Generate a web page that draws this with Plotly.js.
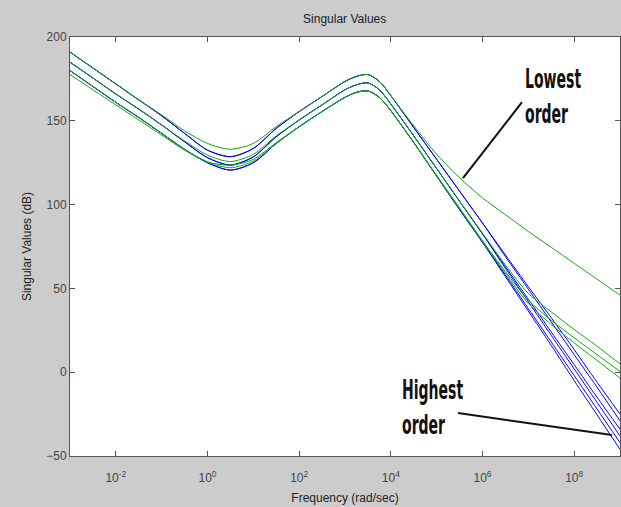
<!DOCTYPE html>
<html>
<head>
<meta charset="utf-8">
<script src="https://cdn.plot.ly/plotly-3.0.1.min.js"></script>
<style>
  html, body { margin: 0; padding: 0; background: #cccccc; }
  #chart { width: 621px; height: 507px; }
</style>
</head>
<body>
<div id="chart"></div>
<script>
// Frequency samples (rad/sec)
const freq = [0.001, 0.00316, 0.01, 0.0316, 0.1, 0.316, 1, 3.16, 10, 31.6, 100, 316, 1000, 1778, 3162, 5623,
              1e4, 31623, 1e5, 316228, 1e6, 3.16e6, 1e7, 3.16e7, 1e8, 3.16e8, 1e9];

// Blue singular-value curves (dB)
const blue1a = [191, 181.5, 172, 162.5, 153, 142.5, 132.5, 128.6, 133.5, 145.5, 155.5, 164.5, 173.5, 176.5, 177.6, 173.5,
                165, 146, 127, 108, 89, 70, 51, 32.5, 13.5, -6, -25];
const blue1b = [191, 181.5, 172, 162.5, 153, 142.5, 132.5, 128.6, 133.5, 145.5, 155.5, 164.5, 173.5, 176.5, 177.6, 173.5,
                165, 146, 127, 108, 89, 69, 49.5, 30, 10.5, -9, -29];
const blue2a = [185, 175.5, 166, 157, 147.5, 137.5, 128, 123.6, 128.5, 140.5, 150.5, 159.5, 168.5, 171.5, 172.6, 168.5,
                160, 141, 121.5, 102, 82.5, 63, 43.5, 24, 4.5, -15, -34];
const blue2b = [185, 175.5, 166, 157, 147.5, 137.5, 128, 123.6, 128.5, 140.5, 150.5, 159.5, 168.5, 171.5, 172.6, 168.5,
                160, 141, 121.5, 102, 82.5, 62, 42, 22, 2, -18, -38];
const blue3a = [180, 170.5, 161, 152, 142.5, 133, 125, 120.6, 125, 136.5, 146.5, 155.5, 164, 167, 167.8, 164,
                156, 137, 117, 97, 77.5, 58, 38, 18, -2, -22, -42];
const blue3b = [180, 170.5, 161, 152, 142.5, 133, 125, 120.6, 125, 136.5, 146.5, 155.5, 164, 167, 167.8, 164,
                156, 137, 117, 97, 77.5, 57, 36.5, 16, -5, -25.5, -46];

// Green singular-value curves (dB)
const green1 = [191, 181.5, 172, 162.5, 153.5, 144, 136.5, 133, 136.5, 146.5, 155.5, 164.5, 173.5, 176.5, 177.6, 173.5,
                165, 147, 130, 116, 104, 94, 84, 74.5, 65, 55.5, 46];
const green2 = [185, 175.5, 166, 157, 147.5, 138, 129.5, 125.7, 130, 141, 150.5, 159.5, 168.5, 171.5, 172.6, 168.5,
                160, 141, 121.5, 102, 83, 64, 47, 36, 25.5, 15.5, 5];
const green3 = [177.6, 168.5, 159.5, 150.5, 141.5, 132.5, 125.5, 123.5, 127, 137, 146.5, 155.5, 164, 167, 167.8, 164,
                156, 137, 117.5, 98, 78.5, 60, 43, 31, 20.5, 10.5, 0.5];
const green4 = [180, 170.5, 161, 152, 142.5, 133, 125.5, 122, 126, 136.5, 146.5, 155.5, 164, 167, 167.8, 164,
                156, 137, 117, 97.5, 78, 59, 41, 28.5, 17.5, 7, -3.5];

// Axis ticks
const xTickVals = [0.01, 1, 100, 1e4, 1e6, 1e8];
const xTickText = ['10<sup>-2</sup>', '10<sup>0</sup>', '10<sup>2</sup>', '10<sup>4</sup>', '10<sup>6</sup>', '10<sup>8</sup>'];
const yTickVals = [-50, 0, 50, 100, 150, 200];

const blueSeries = [blue1a, blue1b, blue2a, blue2b, blue3a, blue3b];
const greenSeries = [green1, green2, green3, green4];

const traces = [];
blueSeries.forEach(ys => traces.push({
  x: freq, y: ys, type: 'scatter', mode: 'lines',
  line: {color: '#0000ff', width: 1, shape: 'spline', smoothing: 0.8},
  hoverinfo: 'skip', showlegend: false
}));
greenSeries.forEach(ys => traces.push({
  x: freq, y: ys, type: 'scatter', mode: 'lines',
  line: {color: '#10a810', width: 1, shape: 'spline', smoothing: 0.8},
  hoverinfo: 'skip', showlegend: false
}));

const annFont = {family: 'DejaVu Sans, sans-serif', size: 27, color: '#111', weight: 'bold'};
const axFont = {family: 'Liberation Sans, Arial, sans-serif', size: 12, color: '#444'};
const titleFont = {family: 'Liberation Sans, Arial, sans-serif', size: 12, color: '#222'};

const layout = {
  width: 621, height: 507,
  paper_bgcolor: '#cccccc', plot_bgcolor: '#ffffff',
  margin: {l: 70, r: 1, t: 37, b: 51},
  showlegend: false,
  title: {text: 'Singular Values', x: 0.555, xanchor: 'center', y: 0.962, yanchor: 'middle', font: titleFont},
  xaxis: {
    type: 'log', range: [-3, 9], tickvals: xTickVals, ticktext: xTickText,
    ticks: 'inside', ticklen: 5, tickcolor: '#555', mirror: 'ticks', ticklabelstandoff: 11,
    showline: true, linecolor: '#555', linewidth: 1, showgrid: false, zeroline: false,
    tickfont: axFont,
    title: {text: 'Frequency (rad/sec)', standoff: 9, font: titleFont}
  },
  yaxis: {
    range: [-50, 200], tickvals: yTickVals,
    ticks: 'inside', ticklen: 5, tickcolor: '#555', mirror: 'ticks',
    showline: true, linecolor: '#555', linewidth: 1, showgrid: false, zeroline: false,
    tickfont: axFont,
    title: {text: 'Singular Values (dB)', standoff: 12, font: titleFont}
  },
  shapes: [
    {type: 'line', xref: 'paper', yref: 'paper', x0: 0.8218, y0: 0.8443, x1: 0.7145, y1: 0.663,
     line: {color: '#111', width: 2}},
    {type: 'line', xref: 'paper', yref: 'paper', x0: 0.7055, y0: 0.1026, x1: 0.9855, y1: 0.0501,
     line: {color: '#111', width: 2}}
  ],
  annotations: [
    {xref: 'paper', yref: 'paper', x: 0.8236, y: 0.86, xanchor: 'left', yanchor: 'middle', align: 'left',
     text: 'Lowest<br>order', showarrow: false, font: annFont},
    {xref: 'paper', yref: 'paper', x: 0.5995, y: 0.117, xanchor: 'left', yanchor: 'middle', align: 'left',
     text: 'Highest<br>order', showarrow: false, font: annFont}
  ]
};

Plotly.newPlot('chart', traces, layout, {staticPlot: true, displayModeBar: false}).then(() => {
  // Condensed lettering of the callouts
  document.querySelectorAll('.annotation-text').forEach(t => {
    t.style.transformBox = 'fill-box';
    t.style.transformOrigin = '0 50%';
    t.style.transform = 'scaleX(0.52)';
  });
});
</script>
</body>
</html>
